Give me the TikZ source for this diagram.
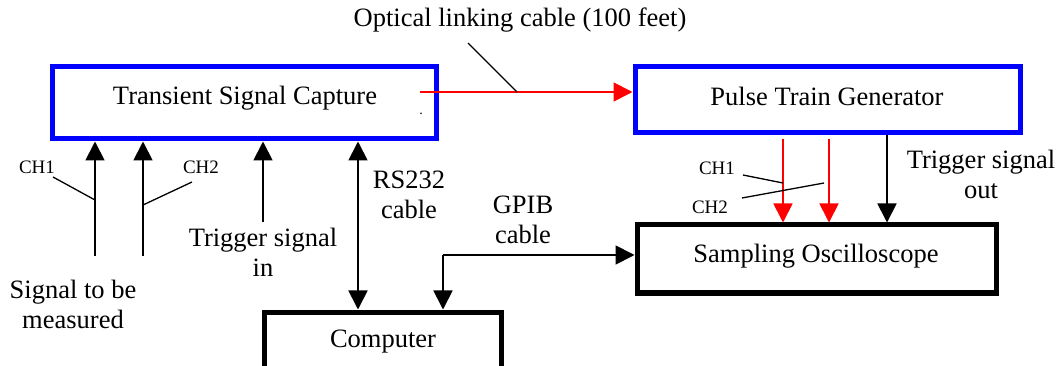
\documentclass[tikz,border=0pt]{standalone}
\usepackage{fontspec}
\setmainfont{Liberation Serif}
\newfontfamily\tnr{Liberation Serif}
\usetikzlibrary{arrows.meta,calc}
\definecolor{pureblue}{RGB}{0,0,255}
\definecolor{purered}{RGB}{255,0,0}
\begin{document}
\begin{tikzpicture}[x=1pt,y=-1pt,
  bigfont/.style={font=\tnr\fontsize{26.5}{28}\selectfont},
  bluebox/.style={draw=pureblue,line width=5pt,inner sep=0pt},
  blackbox/.style={draw=black,line width=5pt,inner sep=0pt},
  lbl/.style={inner sep=0pt,bigfont,align=center},
  smlbl/.style={inner sep=0pt,font=\tnr\fontsize{19}{20}\selectfont},
  conn/.style={line width=1.8pt},
  arr/.style={conn,-{Triangle[length=19pt,width=19pt]}},
  darr/.style={conn,{Triangle[length=19pt,width=19pt]}-{Triangle[length=19pt,width=19pt]}},
  redarr/.style={conn,draw=purered,-{Triangle[length=19pt,width=19pt]},color=purered},
  leader/.style={line width=1.3pt}]
\useasboundingbox (0,0) rectangle (1058,366);
% boxes
\node[bluebox,minimum width=384pt,minimum height=72pt] (tsc) at (244,103) {};
\node[bluebox,minimum width=385pt,minimum height=66pt] (ptg) at (827.5,100) {};
\node[blackbox,minimum width=359pt,minimum height=68pt] (osc) at (816.5,259) {};
\node[blackbox,minimum width=237pt,minimum height=62pt] (comp) at (382.5,343) {};
\node[lbl] (tsctxt) at (245,98) {Transient Signal Capture};
\node[lbl] (ptgtxt) at (827,96) {Pulse Train Generator};
\node[lbl] (osctxt) at (816,256) {Sampling Oscilloscope};
\node[lbl] (comptxt) at (383,342) {Computer};
\node[inner sep=0pt,font=\tnr\fontsize{14}{14}\selectfont] (dot) at (421,114) {.};
% optical link
\coordinate (optstart) at (420,92);
\draw[redarr] (optstart) -- (optstart -| ptg.west);
\node[lbl] (optlbl) at (520,20) {Optical linking cable (100 feet)};
\coordinate (optA) at (468,43);
\coordinate (optB) at (517,92);
\draw[leader] (optA) -- (optB);
% left inputs
\coordinate (s1) at (95,256);
\coordinate (s2) at (143,256);
\coordinate (trin) at (263,222);
\draw[arr] (s1) -- (s1 |- tsc.south);
\draw[arr] (s2) -- (s2 |- tsc.south);
\draw[arr] (trin) -- (trin |- tsc.south);
\coordinate (rs) at (358,200);
\draw[darr] (rs |- comp.north) -- (rs |- tsc.south);
\node[smlbl] (ch1l) at (37,167) {CH1};
\node[smlbl] (ch2l) at (201,167) {CH2};
\coordinate (ch1a) at (53,177);
\coordinate (ch1b) at (95,200);
\coordinate (ch2a) at (192,182);
\coordinate (ch2b) at (143,205);
\draw[leader] (ch1a) -- (ch1b);
\draw[leader] (ch2a) -- (ch2b);
\node[lbl] (sigl) at (73,304) {Signal to be\\[2pt]measured};
\node[lbl] (trinl) at (263,252) {Trigger signal\\[2pt]in};
\node[lbl] (rsl) at (409,195) {RS232\\[2pt]cable};
% GPIB
\coordinate (gp) at (443,255);
\draw[arr] (gp) -- (gp -| osc.west);
\draw[arr] (gp) -- (gp |- comp.north);
\node[lbl] (gpl) at (523,220) {GPIB\\[2pt]cable};
% PTG to oscilloscope
\coordinate (r1) at (783,139);
\coordinate (r2) at (829,139);
\draw[redarr] (r1) -- (r1 |- osc.north);
\draw[redarr] (r2) -- (r2 |- osc.north);
\coordinate (tout) at (887,200);
\draw[arr] (tout |- ptg.south) -- (tout |- osc.north);
\node[lbl] (toutl) at (981,174) {Trigger signal\\[2pt]out};
\node[smlbl] (pch1) at (717,168) {CH1};
\node[smlbl] (pch2) at (710,207) {CH2};
\coordinate (pch1a) at (743,175);
\coordinate (pch1b) at (783,183);
\coordinate (pch2a) at (742,198);
\coordinate (pch2b) at (824,183);
\draw[leader] (pch1a) -- (pch1b);
\draw[leader] (pch2a) -- (pch2b);
\end{tikzpicture}
\end{document}
